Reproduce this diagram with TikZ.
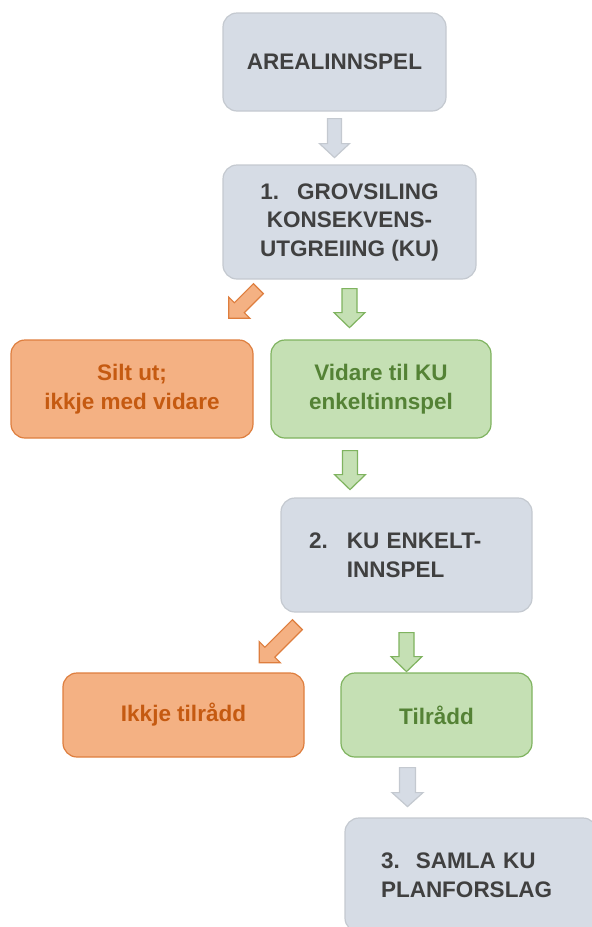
\documentclass[tikz,border=0pt]{standalone}
\usepackage{fontspec}
\setmainfont{Liberation Sans}
\usetikzlibrary{calc}
\definecolor{boxgrey}{HTML}{D6DCE5}
\definecolor{linegrey}{HTML}{C4C9D0}
\definecolor{textgrey}{HTML}{404040}
\definecolor{boxorange}{HTML}{F4B183}
\definecolor{lineorange}{HTML}{DE7E3E}
\definecolor{textorange}{HTML}{C55A11}
\definecolor{boxgreen}{HTML}{C5E0B4}
\definecolor{linegreen}{HTML}{7FB35F}
\definecolor{textgreen}{HTML}{548235}
\tikzset{
    stagebox/.style={rounded corners=14pt,line width=1.2pt,align=center,
        font=\fontsize{22.5}{28.5}\selectfont\bfseries,inner sep=0pt},
    greybox/.style={stagebox,fill=boxgrey,draw=linegrey,text=textgrey},
    orangebox/.style={stagebox,fill=boxorange,draw=lineorange,text=textorange},
    greenbox/.style={stagebox,fill=boxgreen,draw=linegreen,text=textgreen},
    greyarrow/.style={fill=boxgrey,draw=linegrey,line width=1.2pt},
    orangearrow/.style={fill=boxorange,draw=lineorange,line width=1.2pt},
    greenarrow/.style={fill=boxgreen,draw=linegreen,line width=1.2pt},
    % block arrow pointing down: total length / head length / half shaft / half head
    pics/blockarrow/.style n args={4}{code={
        \path[pic actions] (-#3,0) -- (-#3,{-#1+#2}) -- (-#4,{-#1+#2}) -- (0,-#1)
            -- (#4,{-#1+#2}) -- (#3,{-#1+#2}) -- (#3,0) -- cycle;
    }}
}
\begin{document}
\begin{tikzpicture}[x=1pt,y=1pt]
    \clip (0,0) rectangle (592,-927);
    % Stages
    \node[greybox,minimum width=223pt,minimum height=98pt] (areal) at (334.5,-62) {AREALINNSPEL};
    \node[greybox,minimum width=253pt,minimum height=114pt] (grov) at (349.5,-222)
        {1.\hspace{18pt}GROVSILING\\KONSEKVENS-\\UTGREIING (KU)};
    \node[orangebox,minimum width=242pt,minimum height=98pt] (silt) at (132,-389)
        {Silt ut;\\ikkje med vidare};
    \node[greenbox,minimum width=220pt,minimum height=98pt] (vidare) at (381,-389)
        {Vidare til KU\\enkeltinnspel};
    \node[greybox,minimum width=251pt,minimum height=114pt,text width=195pt,
        inner xsep=28pt,align=left] (enkelt) at (406.5,-555)
        {2.\hspace{19pt}KU ENKELT-\\\phantom{2.}\hspace{19pt}INNSPEL};
    \node[orangebox,minimum width=241pt,minimum height=84pt] (ikkje) at (183.5,-715)
        {Ikkje tilrådd};
    \node[greenbox,minimum width=191pt,minimum height=84pt] (tilradd) at (436.5,-715)
        {Tilrådd};
    \node[greybox,minimum width=252pt,minimum height=114pt,text width=180pt,
        inner xsep=36pt,align=left] (samla) at (471,-875)
        {3.\hspace{16pt}SAMLA KU\\PLANFORSLAG};
    % Block arrows
    \pic[greyarrow] at ($(areal.south)+(0,-7)$) {blockarrow={39}{14}{7}{15}};
    \pic[orangearrow,rotate=-45] at ($(grov.south west)+(36,-9)$) {blockarrow={42}{15}{7}{15}};
    \pic[greenarrow] at ($(grov.south)+(0,-9)$) {blockarrow={39}{15}{7.5}{15.5}};
    \pic[greenarrow] at ($(vidare.south)+(-31,-12)$) {blockarrow={39}{15}{7.5}{15.5}};
    \pic[orangearrow,rotate=-45] at ($(enkelt.south west)+(17,-12)$) {blockarrow={54}{15}{7}{15}};
    \pic[greenarrow] at ($(enkelt.south)+(0,-20)$) {blockarrow={39}{15}{7.5}{15.5}};
    \pic[greyarrow] at ($(tilradd.south)+(-29,-10)$) {blockarrow={39}{14}{8}{15.5}};
\end{tikzpicture}
\end{document}
